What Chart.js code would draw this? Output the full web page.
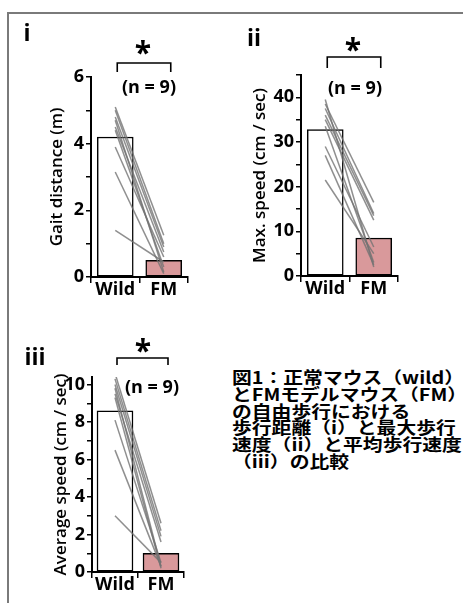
<!DOCTYPE html>
<html>
<head>
<meta charset="utf-8">
<script src="https://cdn.jsdelivr.net/npm/chart.js@4.4.1/dist/chart.umd.min.js"></script>
<style>
html, body { margin: 0; padding: 0; background: #fff; width: 463px; height: 603px; overflow: hidden; }
.frame { position: absolute; left: 7px; top: 12px; width: 480px; height: 620px; border-top: 2px solid #7a7a7a; border-left: 2px solid #7a7a7a; }
canvas { position: absolute; }
#gait { left: 0; top: 0; }
#maxSpeed { left: 200px; top: 0; }
#avgSpeed { left: 0; top: 305px; }
.note { position: absolute; left: 232px; top: 369px; font: bold 16.5px/16.8px "Noto Sans CJK JP"; white-space: nowrap; color: #000; transform: scaleX(1.2); transform-origin: 0 0; }
</style>
</head>
<body>
<div class="frame"></div>
<canvas id="gait" width="200" height="305"></canvas>
<canvas id="maxSpeed" width="263" height="305"></canvas>
<canvas id="avgSpeed" width="200" height="298"></canvas>
<div class="note">図1：正常マウス（wild）<br>とFMモデルマウス（FM）<br>の自由歩行における<br>歩行距離（i）と最大歩行<br>速度（ii）と平均歩行速度<br>（iii）の比較</div>
<script>
const groups = ['Wild', 'FM'];

// gait distance (m)
const distMean = [4.2, 0.5];
const distWild = [5.1, 5.0, 4.8, 4.7, 4.5, 4.4, 3.9, 3.15, 1.4];
const distFM = [1.25, 1.0, 0.9, 0.15, 0.75, 0.3, 0.6, 0.1, 0.45];

// max. speed (cm / sec)
const maxMean = [32.8, 8.5];
const maxWild = [39.5, 38.5, 37.5, 36, 35, 33.5, 29, 27, 21.5];
const maxFM = [2, 16.5, 14, 13.5, 12.5, 3, 6.5, 2.5, 5];

// average speed (cm / sec)
const avgMean = [8.6, 1.0];
const avgWild = [10.6, 10.3, 10.0, 9.8, 9.5, 9.3, 8.1, 6.5, 3.0];
const avgFM = [2.6, 2.2, 1.9, 0.3, 1.6, 0.2, 0.5, 0.3, 0.5];

const FONT = '"Open Sans"';

const annot = {
	id: 'annot',
	afterDraw(chart, args, o) {
		const { ctx } = chart;
		const x = chart.scales.x;
		const y = chart.scales.y;
		ctx.save();
		ctx.fillStyle = '#000';
		ctx.strokeStyle = '#000';
		ctx.textAlign = 'center';

		ctx.font = 'bold 23px ' + FONT;
		ctx.textBaseline = 'middle';
		ctx.fillText(o.panel, o.panelX, o.panelY);

		// axis title (drawn here so it is not squeezed to the axis height)
		ctx.save();
		ctx.translate(o.titleX, (y.top + y.bottom) / 2);
		ctx.rotate(-Math.PI / 2);
		ctx.font = '600 17px ' + FONT;
		ctx.fillText(o.title, 0, 0);
		ctx.restore();

		// significance bracket
		const x0 = x.getPixelForValue(0) + 2;
		const x1 = x.getPixelForValue(1) + 7;
		ctx.lineWidth = 1.6;
		ctx.beginPath();
		ctx.moveTo(x0, o.drop);
		ctx.lineTo(x0, o.bracketY);
		ctx.lineTo(x1, o.bracketY);
		ctx.lineTo(x1, o.drop);
		ctx.stroke();

		ctx.font = 'bold 30px ' + FONT;
		ctx.textBaseline = 'alphabetic';
		ctx.fillText('*', o.starX, o.starY + 0.6 * 30);

		ctx.font = 'bold 18px ' + FONT;
		ctx.textBaseline = 'middle';
		ctx.fillText('(n = ' + o.n + ')', o.nX, o.nY);
		ctx.restore();
	}
};

function makePanel(id, mean, wild, fm, yMax, yWidth, pad, note) {
	const datasets = [{
		type: 'bar',
		data: mean,
		backgroundColor: ['#ffffff', '#d9999b'],
		borderColor: '#000',
		borderWidth: 1.5,
		borderSkipped: false,
		barThickness: 36,
		order: 2,
	}];
	wild.forEach((w, i) => {
		datasets.push({
			type: 'line',
			data: [w, fm[i]],
			borderColor: 'rgba(115,115,115,0.8)',
			borderWidth: 1.5,
			pointRadius: 0,
			order: 1,
		});
	});
	note.n = wild.length;

	return new Chart(document.getElementById(id), {
		type: 'bar',
		data: { labels: groups, datasets: datasets },
		plugins: [annot],
		options: {
			responsive: false,
			animation: false,
			events: [],
			layout: { padding: pad },
			plugins: { legend: { display: false }, tooltip: { enabled: false }, annot: note },
			scales: {
				x: {
					offset: true,
					border: { color: '#000', width: 2 },
					grid: { offset: true, drawOnChartArea: false, tickLength: 6, color: '#000', lineWidth: 1.5 },
					ticks: {
						padding: -4,
						autoSkip: false,
						maxRotation: 0,
						minRotation: 0,
						color: '#000',
						font: { family: FONT, weight: 'bold', size: 18 },
					},
					afterFit: (s) => { s.height = 26; },
				},
				y: {
					min: 0,
					max: yMax.max,
					border: { color: '#000', width: 2 },
					grid: { drawOnChartArea: false, tickLength: 5, color: '#000', lineWidth: 1.5 },
					ticks: {
						stepSize: yMax.step,
						autoSkip: false,
						includeBounds: false,
						padding: 2,
						color: '#000',
						font: { family: FONT, weight: 'bold', size: 18 },
						callback: (v) => (Math.round(v / yMax.step) % 2 === 0 ? v : ''),
					},
					afterFit: (s) => { s.width = yWidth; },
				},
			},
		},
	});
}

makePanel('gait', distMean, distWild, distFM, { max: 6, step: 1 }, 91,
	{ top: 77, right: 12, bottom: 2, left: 0 },
	{ panel: 'i', panelX: 27, panelY: 34, title: 'Gait distance (m)', titleX: 57,
	  bracketY: 63, drop: 72, starX: 143, starY: 45, nX: 149, nY: 88 });

makePanel('maxSpeed', maxMean, maxWild, maxFM, { max: 45, step: 5 }, 101,
	{ top: 75, right: 65, bottom: 3, left: 0 },
	{ panel: 'ii', panelX: 54, panelY: 39, title: 'Max. speed (cm / sec)', titleX: 60,
	  bracketY: 57, drop: 68, starX: 153, starY: 42, nX: 155, nY: 89 });

makePanel('avgSpeed', avgMean, avgWild, avgFM, { max: 10.4, step: 1 }, 92,
	{ top: 72, right: 16, bottom: 5, left: 0 },
	{ panel: 'iii', panelX: 35, panelY: 53, title: 'Average speed (cm / sec)', titleX: 61,
	  bracketY: 53, drop: 60, starX: 143, starY: 38, nX: 152, nY: 83 });
</script>
</body>
</html>
